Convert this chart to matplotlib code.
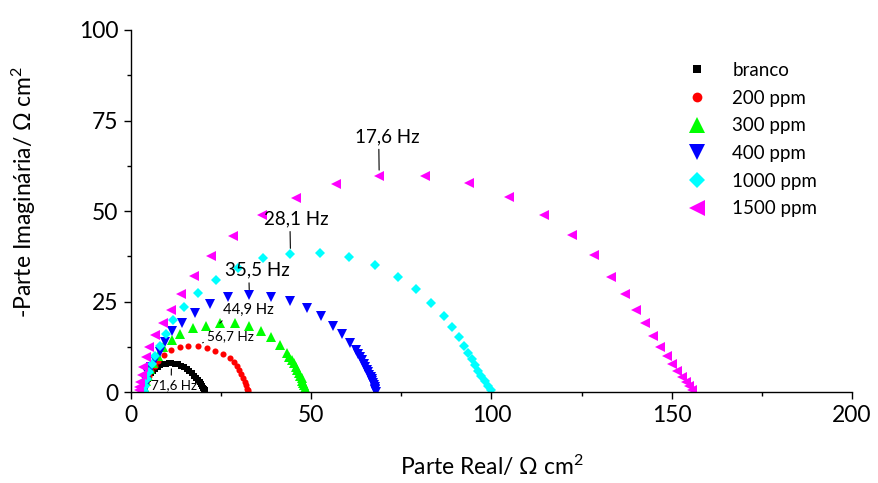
import matplotlib
matplotlib.use('Agg')
import matplotlib.pyplot as plt

plt.rcParams['font.family'] = ['Lato', 'DejaVu Sans']
plt.rcParams['mathtext.fontset'] = 'custom'
plt.rcParams['mathtext.rm'] = 'Lato'
plt.rcParams['mathtext.it'] = 'Lato:italic'
plt.rcParams['mathtext.bf'] = 'Lato:bold'

# Nyquist data (Z' , -Z'' in ohm cm2)
branco_x = [3.5, 3.6, 3.8, 4.0, 4.3, 4.7, 5.1, 5.6, 6.2, 6.8, 7.5, 8.2, 9.0, 9.7, 10.5, 11.3, 12.2,
            13.1, 14.0, 14.8, 15.6, 16.3, 17.0, 17.6, 18.2, 18.7, 19.1, 19.5, 19.8, 20.1, 20.3, 20.5, 20.6, 20.7]
branco_y = [0.2, 0.8, 1.5, 2.2, 3.0, 3.8, 4.5, 5.2, 5.9, 6.5, 7.0, 7.4, 7.7, 7.9, 8.0, 8.0, 7.9,
            7.7, 7.3, 6.9, 6.4, 5.8, 5.2, 4.6, 4.0, 3.4, 2.8, 2.3, 1.8, 1.3, 0.9, 0.6, 0.3, 0.1]

ppm200_x = [3.6, 3.8, 4.1, 4.5, 5.0, 5.7, 6.6, 7.7, 9.3, 11.2, 13.7, 16.0, 18.6, 21.2, 23.5, 25.7, 27.5,
            28.7, 29.5, 30.1, 30.6, 31.2, 31.6, 31.9, 32.2, 32.4, 32.6]
ppm200_y = [0.3, 1.2, 2.2, 3.3, 4.5, 5.8, 7.2, 8.6, 10.2, 11.7, 12.4, 12.9, 12.9, 12.2, 11.5, 10.6, 9.4,
            8.3, 7.3, 6.2, 5.1, 4.0, 2.8, 1.9, 1.0, 0.5, 0.1]

ppm300_x = [3.6, 3.8, 4.2, 4.7, 5.4, 6.3, 7.5, 9.0, 11.4, 13.8, 17.2, 20.9, 24.7, 28.9, 32.9, 36.2, 39.0,
            41.4, 43.2, 44.0, 44.6, 45.2, 45.8, 46.2, 46.6, 47.0, 47.4, 47.6, 47.8, 48.1, 48.3, 48.5, 48.6]
ppm300_y = [0.3, 1.5, 3.0, 4.6, 6.3, 8.1, 10.0, 12.4, 14.4, 16.1, 17.8, 18.4, 19.1, 19.1, 18.3, 16.9, 15.2,
            13.1, 10.9, 9.8, 8.9, 8.0, 7.1, 6.2, 5.4, 4.6, 3.9, 3.2, 2.5, 1.9, 1.3, 0.7, 0.3]

ppm400_x = [3.7, 3.9, 4.3, 4.9, 5.7, 6.7, 8.0, 9.6, 11.5, 14.1, 17.9, 22.0, 27.0, 32.9, 38.8, 44.1, 48.9,
            52.7, 56.0, 58.7, 60.7, 62.4, 63.1, 63.7, 64.2, 64.7, 65.1, 65.5, 65.8, 66.1, 66.5, 66.8, 67.0,
            67.2, 67.4, 67.6, 67.7, 67.8, 67.9]
ppm400_y = [0.3, 1.6, 3.2, 5.0, 6.9, 8.9, 11.0, 13.9, 16.9, 19.2, 22.0, 24.3, 26.4, 26.8, 26.4, 25.3, 23.3,
            21.0, 18.4, 16.0, 13.7, 11.7, 10.7, 9.7, 8.8, 7.9, 7.0, 6.2, 5.5, 4.9, 4.2, 3.6, 3.0,
            2.5, 2.0, 1.5, 1.0, 0.6, 0.2]

ppm1000_x = [3.8, 4.0, 4.4, 5.0, 5.8, 6.8, 8.2, 9.8, 11.8, 14.8, 18.7, 23.6, 29.8, 36.7, 44.3, 52.5, 60.5,
             67.7, 74.0, 79.2, 83.2, 86.8, 89.2, 90.9, 92.4, 93.5, 94.5, 95.4, 96.3, 97.2, 98.1, 99.1, 100.0]
ppm1000_y = [0.3, 1.8, 3.6, 5.6, 7.8, 10.1, 12.9, 16.2, 20.0, 23.6, 27.3, 31.1, 34.2, 37.0, 38.2, 38.5, 37.3,
             35.0, 31.9, 28.4, 24.6, 21.1, 18.1, 15.2, 12.9, 10.9, 9.2, 7.5, 6.0, 4.5, 3.1, 1.7, 0.6]

ppm1500_x = [2.2, 2.3, 2.6, 3.0, 3.5, 4.2, 5.2, 6.7, 8.9, 11.3, 13.9, 17.5, 22.2, 28.4, 36.3, 45.8, 56.8,
             68.9, 81.5, 93.8, 104.9, 114.5, 122.3, 128.4, 133.2, 137.0, 140.0, 142.5, 144.8, 146.8, 148.6,
             150.2, 151.6, 152.8, 153.9, 154.8, 155.5]
ppm1500_y = [0.5, 1.5, 2.9, 4.8, 7.1, 9.8, 12.6, 15.8, 19.0, 22.7, 27.1, 32.1, 37.7, 43.2, 48.8, 53.6, 57.6,
             59.8, 59.8, 57.9, 54.0, 49.0, 43.5, 37.9, 31.8, 27.0, 22.8, 19.0, 15.6, 12.6, 10.0,
             7.8, 5.8, 4.2, 2.8, 1.6, 0.6]

labels = ['branco', '200 ppm', '300 ppm', '400 ppm', '1000 ppm', '1500 ppm']
# frequency labels: (series index, point index, text)
freq_notes = [(0, 15, '71,6 Hz'), (1, 12, '56,7 Hz'), (2, 12, '44,9 Hz'),
              (3, 13, '35,5 Hz'), (4, 14, '28,1 Hz'), (5, 17, '17,6 Hz')]

series = [(branco_x, branco_y), (ppm200_x, ppm200_y), (ppm300_x, ppm300_y),
          (ppm400_x, ppm400_y), (ppm1000_x, ppm1000_y), (ppm1500_x, ppm1500_y)]
colors = ['#000000', '#ff0000', '#00ff00', '#0000ff', '#00ffff', '#ff00ff']
markers = ['s', 'o', '^', 'v', 'D', '<']
msizes = [3.8, 4.4, 7.0, 7.0, 5.0, 7.2]

fig = plt.figure(figsize=(8.79, 4.83), dpi=100)
ax = fig.add_axes([0.1487, 0.1878, 0.8206, 0.7501])

for (x, y), c, m, ms, lab in zip(series, colors, markers, msizes, labels):
    ax.plot(x, y, linestyle='none', marker=m, ms=ms, color=c, mec=c, mew=0, label=lab)

# annotations: offset of text centre in pixels, relpos of leader start, fontsize
note_style = {
    '17,6 Hz': ((8, 39), (0.37, 0.0), 13.5),
    '28,1 Hz': ((6, 35), (0.40, 0.0), 13.5),
    '35,5 Hz': ((8, 25), (0.37, 0.0), 13.5),
    '44,9 Hz': ((29, 13), (0.08, 0.1), 10.7),
    '56,7 Hz': ((33, 9), (0.0, 0.2), 9.8),
    '71,6 Hz': ((3, -22), (0.43, 1.0), 9.6),
}
for si, pi, txt in freq_notes:
    off, rp, fs = note_style[txt]
    x, y = series[si]
    ax.annotate(txt, xy=(x[pi], y[pi]), xytext=off, textcoords='offset pixels',
                ha='center', va='center', fontsize=fs,
                arrowprops=dict(arrowstyle='-', color='black', lw=0.8, relpos=rp,
                                shrinkA=1, shrinkB=4))

ax.set_xlim(0, 200)
ax.set_ylim(0, 100)
ax.set_xticks([0, 50, 100, 150, 200])
ax.set_xticks([25, 75, 125, 175], minor=True)
ax.set_yticks([0, 25, 50, 75, 100])
ax.set_yticks([12.5, 37.5, 62.5, 87.5], minor=True)
ax.spines['top'].set_visible(False)
ax.spines['right'].set_visible(False)
for s in ['left', 'bottom']:
    ax.spines[s].set_linewidth(1.0)
ax.tick_params(which='major', direction='out', length=5, width=1.0, labelsize=16.5, pad=4)
ax.tick_params(which='minor', direction='out', length=3, width=1.0)

ax.set_xlabel('Parte Real/ Ω cm$^{2}$', fontsize=16.5)
ax.set_ylabel('-Parte Imaginária/ Ω cm$^{2}$', fontsize=16.5)
ax.xaxis.set_label_coords(0.5, -0.17)
ax.yaxis.set_label_coords(-0.128, 0.553)

ax.legend(loc='upper left', bbox_to_anchor=(0.782, 0.872), bbox_transform=fig.transFigure,
          frameon=False, fontsize=13.5, markerscale=1.6, handlelength=1.0,
          handletextpad=1.4, borderpad=0, borderaxespad=0, labelspacing=0.57)

fig.savefig('out.png', dpi=100)
